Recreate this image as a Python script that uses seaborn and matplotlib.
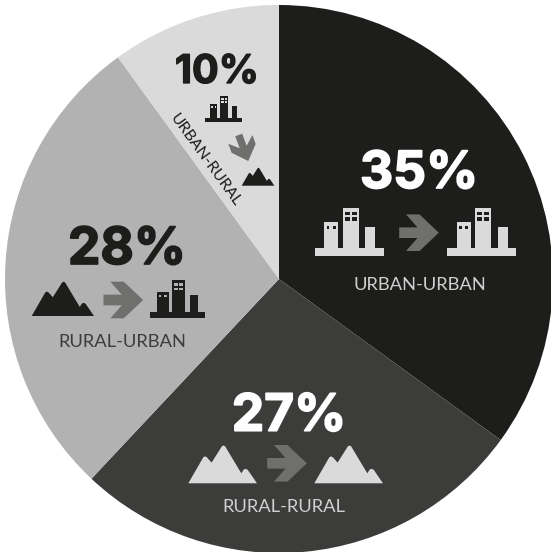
import matplotlib
matplotlib.use("Agg")
import matplotlib.pyplot as plt
import matplotlib.patheffects as pe
from matplotlib.patches import Polygon, Rectangle
import numpy as np
import seaborn as sns

categories = ["URBAN-URBAN", "RURAL-RURAL", "RURAL-URBAN", "URBAN-RURAL"]
shares = [35, 27, 28, 10]
slice_colors = ["#1d1d1b", "#3c3c3b", "#b2b2b2", "#dadada"]
value_colors = ["white", "white", "#1d1d1b", "#1d1d1b"]
label_colors = ["#d0d0d0", "#d0d0d0", "#3c3c3b", "#1d1d1b"]
ARROW = "#6f6f6e"

sns.set_theme(style="white")
plt.rcParams["font.family"] = ["Inter", "DejaVu Sans"]

W, H = 551, 552
fig = plt.figure(figsize=(W / 100, H / 100), dpi=100, facecolor="white")
cx, cy, r = 279, 279, 274
pie_ax = fig.add_axes([(cx - r) / W, 1 - (cy + r) / H, 2 * r / W, 2 * r / H])
pie_ax.pie(shares, colors=slice_colors, startangle=90, counterclock=False, radius=1,
           wedgeprops={"linewidth": 0, "edgecolor": "none"})
pie_ax.set_xlim(-1, 1)
pie_ax.set_ylim(-1, 1)
pie_ax.axis("off")

ax = fig.add_axes([0, 0, 1, 1])
ax.set_xlim(0, W)
ax.set_ylim(H, 0)
ax.axis("off")
ax.patch.set_alpha(0)


def building(x, base, width, color, bg):
    s = width / 69.0
    ax.add_patch(Rectangle((x, base - 7.4 * s), 69 * s, 7.4 * s, fc=color, lw=0))
    for bx, bw, bh in [(9.3, 14, 33.4), (28, 16, 48), (50.3, 10, 29)]:
        ax.add_patch(Rectangle((x + bx * s, base - bh * s), bw * s, bh * s, fc=color, lw=0))
    for wx, wy, ww, wh in [(11.7, 29.7, 2.7, 3.3), (18, 29.7, 2.7, 3.3),
                           (30, 44, 5, 3.6), (36.7, 44, 5, 3.6),
                           (30, 38.6, 5, 3.4), (36.7, 38.6, 5, 3.4)]:
        ax.add_patch(Rectangle((x + wx * s, base - wy * s), ww * s, wh * s, fc=bg, lw=0))


MOUNTAIN = [(0, 0), (15, 26), (16.6, 27), (18.6, 26), (23.3, 20.7), (33.6, 37), (35.2, 37.8),
            (36.8, 37), (53, 10), (55.6, 14), (57.6, 14.4), (59.4, 13.5), (68.7, 0)]


def mountain(x, base, width, color):
    s = width / 68.7
    ax.add_patch(Polygon([(x + px * s, base - py * s) for px, py in MOUNTAIN], fc=color, lw=0))


ARROW_SHAPE = np.array([(-19.8, -5.3), (-1.5, -5.3), (-13, -18.3), (0.5, -18.3), (19.8, 0),
                        (0.5, 18.3), (-13, 18.3), (-1.5, 5.3), (-19.8, 5.3)])


def arrow(x, y, scale=1.0, angle=0.0):
    t = np.radians(angle)
    rot = np.array([[np.cos(t), -np.sin(t)], [np.sin(t), np.cos(t)]])
    pts = (rot @ (ARROW_SHAPE * scale).T).T + [x, y]
    ax.add_patch(Polygon(pts, fc=ARROW, lw=0))


PCT_SIZE = 37
LAB_SIZE = 13.2


def pct(i, x, y, size=PCT_SIZE):
    t = ax.text(x, y, f"{shares[i]}%", ha="center", va="baseline", fontsize=size,
                fontweight="bold", color=value_colors[i])
    t.set_path_effects([pe.withStroke(linewidth=size / 30, foreground=value_colors[i])])


def lab(i, x, y):
    ax.text(x, y, categories[i], ha="center", va="baseline", fontsize=LAB_SIZE,
            color=label_colors[i], family=["Lato", "DejaVu Sans"])


# URBAN-URBAN
pct(0, 419, 188)
building(315, 255.7, 69, "#dadada", slice_colors[0])
arrow(419, 232.7)
building(447.3, 255.7, 69, "#dadada", slice_colors[0])
lab(0, 420, 290)

# RURAL-RURAL
pct(1, 289, 430.7)
mountain(188.3, 483.3, 68.7, "#dadada")
arrow(287, 463.3)
mountain(314.3, 483.3, 68.7, "#dadada")
lab(1, 284, 511.7)

# RURAL-URBAN
pct(2, 127, 264)
mountain(31.7, 316, 62.3, "#1d1d1b")
arrow(123.3, 300)
building(150, 318.3, 55, "#1d1d1b", slice_colors[2])
lab(2, 122.7, 346.7)

# URBAN-RURAL
pct(3, 217, 83, size=28.5)
building(205, 121.7, 36.7, "#1d1d1b", slice_colors[3])
arrow(243.5, 148, 0.7, 70)
mountain(241.7, 185.7, 32.7, "#1d1d1b")
ax.text(205, 160, categories[3], ha="center", va="center", fontsize=11.3,
        rotation=-54, rotation_mode="anchor", color=label_colors[3],
        family=["Lato", "DejaVu Sans"])

fig.savefig("out.png", dpi=100, facecolor="white")
